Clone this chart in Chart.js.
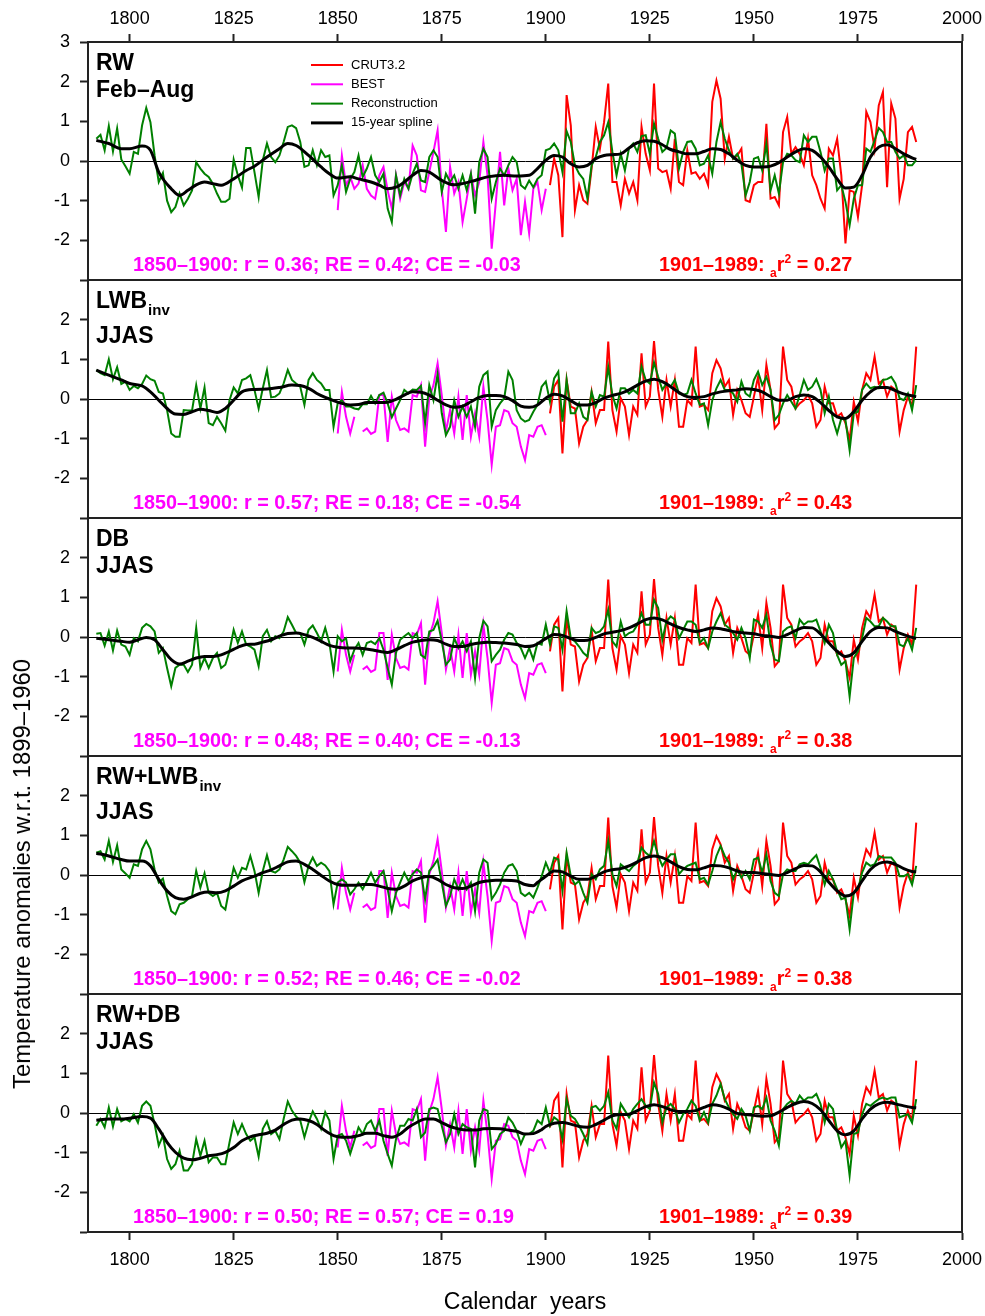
<!DOCTYPE html>
<html>
<head>
<meta charset="utf-8">
<script src="https://cdn.jsdelivr.net/npm/chart.js@4.4.1/dist/chart.umd.min.js"></script>
<style>
  body { margin: 0; background: #fff; }
  #wrap { position: relative; width: 985px; height: 1316px; background: #fff; }
  #wrap canvas { position: absolute; left: 0; }
  #ytitle {
    position: absolute; left: 22px; top: 874px;
    transform: translate(-50%, -50%) rotate(-90deg);
    white-space: nowrap; font: 23.8px "Liberation Sans", Arial, sans-serif; color: #000;
  }
</style>
</head>
<body>
<div id="wrap">
  <canvas id="p0" width="985" height="280" style="top:0px"></canvas>
  <canvas id="p1" width="985" height="238" style="top:280px"></canvas>
  <canvas id="p2" width="985" height="238" style="top:518px"></canvas>
  <canvas id="p3" width="985" height="238" style="top:756px"></canvas>
  <canvas id="p4" width="985" height="322" style="top:994px"></canvas>
  <div id="ytitle">Temperature anomalies w.r.t. 1899–1960</div>
</div>
<script>
// years of first value in each series
const reconStart = 1792;
const crutStart = 1901;
const bestStart = 1850;
const xTicks = [1800, 1825, 1850, 1875, 1900, 1925, 1950, 1975, 2000];
const yTicks = [-3, -2, -1, 0, 1, 2, 3];

// reconstructions, one value per year 1792-1989
const reconRW = [
  0.56, 0.66, 0.27, 0.88, 0.24, 0.82, 0.04, -0.13, -0.32, 0.23,
  0.18, 0.9, 1.34, 0.98, 0.14, -0.53, -0.3, -1.0, -1.29, -1.16,
  -0.82, -1.12, -0.95, -0.74, -0.03, -0.19, -0.32, -0.4, -0.57, -0.82,
  -1.03, -1.03, -0.95, 0.04, -0.36, -0.67, 0.33, 0.33, -0.28, -0.91,
  0.02, 0.44, 0.1, -0.03, 0.14, 0.48, 0.86, 0.9, 0.83, 0.48,
  -0.15, -0.11, 0.27, -0.11, 0.27, 0.1, 0.14, -0.87, -0.61, -0.11,
  -0.78, -0.45, -0.28, 0.14, -0.4, -0.19, 0.1, -0.36, -0.53, -0.32,
  -1.2, -1.54, -0.36, -0.87, -0.45, -0.7, -0.32, -0.07, -0.49, -0.53,
  0.1, 0.27, 0.1, -0.78, -0.32, -0.53, -0.36, -0.7, -0.36, -0.74,
  -0.32, -1.33, -0.03, 0.31, 0.1, -0.95, -0.53, -0.19, -0.36, -0.11,
  0.1, -0.03, -0.61, -0.7, -0.49, -0.66, -0.45, -0.36, 0.27, 0.31,
  0.44, 0.27, -0.28, 0.75, 0.48, -0.11, -0.32, -0.45, -0.95, -0.11,
  0.1, 0.48, 0.65, 0.98, 0.23, -0.36, 0.18, -0.24, 0.33, 0.44,
  0.23, 0.63, 0.65, 0.18, 0.94, 0.56, 0.23, 0.33, 0.77, 0.69,
  -0.19, 0.23, 0.48, 0.5, 0.31, -0.11, -0.07, 0.14, -0.32, 0.48,
  0.98, 0.56, 0.27, 0.06, 0.18, -0.07, -0.87, -0.53, 0.06, 0.1,
  -0.24, 0.44, -0.74, -0.36, -0.82, -0.03, 0.18, 0.14, 0.02, -0.03,
  0.65, 0.48, 0.61, 0.61, 0.23, -0.24, 0.06, 0.06, -0.74, -0.61,
  -1.03, -1.62, -0.95, -0.61, -0.61, 0.31, 0.23, 0.52, 0.83, 0.73,
  0.48, 0.48, 0.23, 0.06, 0.14, -0.11, -0.11, 0.02
];
const reconLWB = [
  0.73, 0.65, 0.6, 1.0, 0.5, 0.8, 0.38, 0.44, 0.23, 0.33,
  0.27, 0.38, 0.59, 0.5, 0.46, 0.18, 0.14, -0.28, -0.87, -0.95,
  -0.95, -0.28, -0.29, -0.29, 0.35, -0.24, 0.29, -0.61, -0.66, -0.45,
  -0.61, -0.8, -0.03, 0.29, 0.14, 0.48, 0.52, 0.6, 0.23, -0.24,
  0.27, 0.73, 0.04, 0.06, 0.14, 0.39, 0.73, 0.48, 0.39, 0.31,
  -0.15, 0.48, 0.65, 0.48, 0.39, 0.23, 0.23, -0.7, -0.11, -0.03,
  -0.19, -0.19, -0.24, -0.26, -0.13, -0.13, 0.08, -0.11, 0.1, 0.16,
  -0.11, -0.46, -0.24, -0.03, 0.23, 0.14, 0.24, 0.23, 0.33, -0.61,
  0.35, -0.03, 0.63, -0.36, -0.91, -0.7, -0.03, -0.45, -0.19, -0.45,
  -0.19, -0.7, 0.31, 0.6, 0.69, -0.7, -0.28, -0.11, 0.02, 0.69,
  0.48, -0.28, -0.49, -0.57, -0.53, -0.32, -0.15, 0.31, 0.44, -0.07,
  0.52, 0.69, -0.57, 0.48, -0.36, -0.36, -0.11, -0.45, -0.53, 0.18,
  -0.19, 0.1, 0.06, 0.8, 0.1, -0.24, 0.27, 0.27, 0.14, 0.23,
  0.14, 0.82, 0.48, 0.39, 0.92, 0.56, 0.23, 0.39, 0.31, 0.48,
  0.14, 0.1, 0.14, 0.48, 0.14, -0.15, -0.11, -0.66, -0.03, 0.27,
  0.48, 0.23, 0.23, 0.14, -0.07, 0.44, 0.14, 0.06, 0.48, 0.69,
  0.35, 0.56, 0.23, -0.53, -0.4, -0.11, 0.1, -0.07, -0.24, 0.1,
  0.48, 0.23, 0.31, 0.5, 0.23, -0.36, 0.06, -0.53, -0.87, -0.49,
  -0.53, -1.29, -0.36, -0.32, 0.23, 0.39, 0.27, 0.31, 0.27, 0.48,
  0.5, 0.56, 0.39, 0.02, -0.03, 0.14, -0.28, 0.35
];
const reconDB = [
  0.08, 0.1, -0.22, 0.14, -0.34, 0.16, -0.19, -0.24, -0.45, -0.03,
  -0.11, 0.23, 0.33, 0.27, 0.14, -0.4, -0.28, -0.78, -1.24, -0.78,
  -0.7, -0.7, -0.88, -0.7, 0.23, -0.78, -0.53, -0.78, -0.53, -0.4,
  -0.78, -0.7, -0.36, 0.18, -0.15, 0.14, -0.19, -0.24, -0.32, -0.74,
  0.02, 0.18, -0.11, 0.02, -0.03, 0.14, 0.5, 0.31, 0.1, 0.1,
  -0.19, 0.18, 0.29, 0.1, -0.11, 0.23, -0.15, -0.87, 0.02, -0.11,
  -0.03, -0.61, -0.32, -0.15, -0.45, -0.15, -0.11, -0.18, -0.03, -0.32,
  -0.78, -1.2, -0.4, -0.07, 0.02, 0.1, -0.03, 0.1, -0.45, -0.53,
  0.14, 0.18, 0.41, -0.11, -0.7, -0.57, -0.03, -0.28, -0.11, -0.36,
  -0.11, -1.03, -0.03, 0.41, 0.27, -0.61, -0.45, -0.32, -0.07, 0.1,
  0.06, -0.15, -0.28, -0.53, -0.28, -0.57, -0.15, -0.19, 0.31, -0.19,
  0.27, 0.23, -0.32, 0.65, -0.03, -0.11, -0.24, -0.4, -0.49, 0.23,
  0.1, 0.14, 0.27, 0.69, -0.11, -0.24, 0.39, 0.02, 0.1, 0.14,
  0.31, 0.6, 0.31, 0.31, 0.94, 0.73, -0.07, 0.39, 0.52, 0.44,
  -0.03, 0.18, 0.39, 0.39, 0.31, -0.15, -0.03, -0.28, 0.14, 0.39,
  0.6, 0.31, 0.23, 0.1, -0.07, 0.23, -0.03, -0.53, 0.44, 0.39,
  0.23, 0.56, -0.19, -0.57, -0.61, 0.14, 0.23, 0.27, -0.03, 0.44,
  0.31, 0.39, 0.39, 0.44, 0.14, -0.15, 0.31, 0.1, -0.45, -0.7,
  -0.61, -1.5, -0.53, -0.36, -0.03, 0.48, 0.39, 0.27, 0.27, 0.48,
  0.39, 0.27, 0.27, -0.19, -0.24, -0.03, -0.32, 0.23
];
const reconRWLWB = [
  0.56, 0.6, 0.39, 0.86, 0.33, 0.75, 0.14, 0.04, -0.07, 0.27,
  0.23, 0.65, 0.86, 0.65, 0.14, -0.19, -0.09, -0.53, -0.91, -0.99,
  -0.74, -0.7, -0.61, -0.53, 0.1, -0.32, 0.04, -0.45, -0.53, -0.45,
  -0.78, -0.87, -0.32, 0.18, -0.07, 0.18, 0.14, 0.48, 0.1, -0.45,
  0.1, 0.5, 0.1, 0.06, 0.14, 0.39, 0.71, 0.6, 0.48, 0.31,
  -0.18, 0.23, 0.44, 0.23, 0.31, 0.24, 0.1, -0.74, -0.19, -0.11,
  -0.19, -0.49, -0.36, -0.19, -0.36, -0.15, 0.06, -0.19, -0.03, 0.1,
  -0.36, -0.91, -0.45, -0.19, 0.06, -0.15, 0.02, 0.14, 0.06, -0.61,
  0.1, 0.23, 0.39, -0.19, -0.78, -0.53, -0.11, -0.36, -0.11, -0.36,
  -0.19, -0.91, 0.06, 0.39, 0.31, -0.61, -0.45, -0.24, 0.06, 0.23,
  0.27, 0.1, -0.45, -0.53, -0.45, -0.57, -0.32, -0.03, 0.31, 0.06,
  0.44, 0.39, -0.4, 0.56, -0.03, -0.24, -0.15, -0.45, -0.7, 0.02,
  -0.11, 0.14, 0.23, 0.86, 0.02, -0.28, 0.27, 0.18, 0.1, 0.23,
  0.31, 0.69, 0.56, 0.48, 0.86, 0.48, 0.23, 0.39, 0.52, 0.52,
  0.02, 0.14, 0.23, 0.27, 0.31, -0.11, -0.07, -0.24, 0.1, 0.48,
  0.73, 0.48, 0.31, -0.11, 0.14, -0.07, 0.1, -0.11, 0.39, 0.44,
  0.06, 0.52, -0.15, -0.45, -0.53, 0.02, 0.14, 0.1, 0.1, 0.27,
  0.31, 0.27, 0.39, 0.5, 0.18, -0.24, 0.1, -0.11, -0.36, -0.61,
  -0.57, -1.37, -0.45, -0.36, 0.06, 0.31, 0.23, 0.27, 0.48, 0.44,
  0.44, 0.44, 0.31, -0.03, -0.03, 0.02, -0.24, 0.23
];
const reconRWDB = [
  -0.32, -0.15, -0.36, 0.14, -0.34, 0.1, -0.21, -0.15, -0.21, -0.03,
  -0.24, 0.18, 0.29, 0.18, -0.28, -0.82, -0.57, -1.16, -1.41, -1.29,
  -0.95, -1.45, -1.45, -1.29, -0.66, -1.08, -0.7, -1.24, -1.12, -1.12,
  -1.29, -1.29, -0.74, -0.24, -0.53, -0.28, -0.53, -0.7, -0.61, -1.1,
  -0.4, -0.21, -0.53, -0.45, -0.66, -0.15, 0.29, 0.06, -0.09, -0.19,
  -0.61, -0.24, 0.04, -0.15, -0.4, 0.02, -0.19, -1.16, -0.57, -0.53,
  -0.7, -1.03, -0.7, -0.36, -0.53, -0.28, -0.19, -0.45, -0.19, -0.7,
  -1.03, -1.33, -0.66, -0.32, -0.32, -0.15, -0.19, 0.1, -0.61, -0.49,
  0.1, 0.14, 0.1, -0.32, -0.74, -0.53, -0.03, -0.53, -0.28, -0.36,
  -0.4, -1.37, -0.19, 0.1, 0.06, -0.91, -0.78, -0.53, -0.45, -0.11,
  -0.24, -0.45, -0.78, -0.53, -0.53, -0.45, -0.19, -0.28, 0.14, -0.32,
  -0.11, -0.19, -0.66, 0.35, -0.07, -0.15, -0.32, -0.53, -0.78, 0.14,
  0.18, 0.06, 0.18, 0.52, -0.19, -0.4, 0.23, 0.06, -0.11, 0.1,
  0.23, 0.35, 0.18, 0.1, 0.77, 0.48, -0.24, 0.14, 0.23, 0.1,
  -0.24, -0.03, 0.1, 0.31, 0.18, -0.19, 0.02, -0.24, 0.23, 0.44,
  0.73, 0.35, 0.14, -0.03, -0.15, 0.1, -0.07, -0.45, 0.14, 0.18,
  0.1, 0.39, -0.19, -0.45, -0.82, 0.1, 0.23, 0.31, 0.23, 0.44,
  0.31, 0.39, 0.39, 0.48, 0.23, -0.24, 0.23, 0.1, -0.45, -0.87,
  -0.7, -1.58, -0.53, -0.49, -0.03, 0.23, 0.18, 0.27, 0.35, 0.39,
  0.35, 0.39, 0.39, -0.11, -0.07, -0.03, -0.24, 0.35
];

// instrumental targets
const crutFebAug = [
  -0.61, 0.06, -0.36, -1.92, 1.66, 0.9, -1.24, -0.61, -0.99, -1.08,
  -0.19, 0.86, 0.31, 0.98, 1.95, -0.53, -0.53, -1.12, -0.45, -0.82,
  -0.53, -0.99, 0.86, 0.18, -0.24, 1.95, -0.19, -0.28, -0.24, -0.7,
  0.56, -0.53, -0.61, 0.27, -0.32, -0.28, -0.45, -0.32, -0.61, 1.49,
  2.03, 1.57, 0.06, 0.61, 0.06, 0.14, 0.31, -0.99, -1.03, -0.61,
  -0.53, -0.53, 0.94, -0.95, -0.91, -1.12, 0.73, 1.11, 0.18, 0.35,
  0.18, -0.11, 0.56, -0.36, -0.61, -0.95, -1.2, 0.31, 0.14, 0.56,
  -0.36, -2.08, -0.74, -0.78, -1.41, -0.61, 1.24, 0.98, 0.31, 1.4,
  1.74, -0.66, 1.45, 1.07, -0.95, -0.45, 0.73, 0.86, 0.48
];
const crutJJAS = [
  -0.36, 0.31, 0.48, -1.37, 0.48, -0.19, -0.24, -1.12, -0.7, -0.53,
  0.18, -0.61, -0.28, -0.28, 1.45, -0.28, -0.82, 0.02, -0.19, -0.91,
  -0.19, -0.4, 1.15, -0.19, 0.06, 1.46, 0.23, -0.45, 0.48, -0.19,
  0.48, -0.7, -0.7, -0.03, -0.15, 1.32, -0.19, -0.15, -0.28, 0.65,
  0.98, 0.77, 0.31, 0.48, -0.4, 0.23, -0.03, -0.36, -0.45, 0.06,
  0.56, -0.28, 0.86, 0.23, -0.74, -0.61, 1.32, 0.48, 0.31, -0.24,
  -0.11, -0.03, 0.1, -0.11, -0.7, -0.53, 0.31, -0.11, -0.11, -0.45,
  -0.36, -0.61, -1.03, -0.07, -0.57, 0.23, 0.65, 0.48, 1.07, 0.39,
  0.48, 0.06, 0.31, 0.23, -0.82, -0.28, 0.06, -0.19, 1.32
];
const bestFebAug = [
  -1.24, 0.14, -0.61, -0.4, -0.7, -0.57, -0.11, -0.7, -0.87, -0.95,
  -0.36, -0.15, -0.74, -1.2, -0.36, -0.95, -0.53, -0.7, 0.39, 0.14,
  -0.74, -0.78, -0.28, 0.23, 0.77, -0.7, -1.79, -0.15, -0.82, -0.53,
  -1.54, -0.95, -0.32, -0.87, -0.53, 0.48, -0.36, -2.21, -1.03, 0.23,
  -1.12, -0.19, -0.74, -0.45, -1.87, -1.03, -1.83, -0.7, -0.53, -1.24, -0.7
];
const bestJJAS = [
  -0.87, 0.18, -0.45, -0.87, -0.45, null, -0.82, -0.74, -0.88, -0.82,
  0.1, 0.1, -1.08, 0.06, -0.53, -0.78, -0.74, -0.82, 0.1, 0.06,
  0.35, -1.2, 0.02, 0.35, 0.9, 0.1, -0.82, -0.28, -0.87, 0.06,
  -1.03, 0.1, -0.95, -0.36, -0.95, 0.31, -0.53, -1.66, -0.7, -0.66,
  -0.28, -0.32, -0.61, -0.7, -1.2, -1.54, -0.91, -0.95, -0.7, -0.66, -0.91
];

// 15-year splines, [year, value]
const splineRW = [
  [1792, 0.52], [1795, 0.44], [1798, 0.31], [1800, 0.31], [1803, 0.38], [1805, 0.27],
  [1807, -0.28], [1810, -0.7], [1812, -0.87], [1814, -0.74], [1816, -0.6], [1818, -0.53],
  [1820, -0.57], [1822, -0.61], [1825, -0.45], [1828, -0.24], [1830, -0.13], [1833, 0.1],
  [1836, 0.31], [1838, 0.44], [1840, 0.39], [1843, 0.14], [1846, -0.15], [1848, -0.32],
  [1850, -0.43], [1853, -0.4], [1855, -0.45], [1858, -0.53], [1860, -0.61], [1862, -0.7],
  [1864, -0.66], [1866, -0.53], [1868, -0.36], [1870, -0.24], [1872, -0.28], [1875, -0.49],
  [1878, -0.6], [1880, -0.57], [1883, -0.49], [1886, -0.4], [1890, -0.36], [1893, -0.38],
  [1896, -0.36], [1898, -0.19], [1900, 0.02], [1902, 0.14], [1904, 0.1], [1906, -0.07],
  [1908, -0.15], [1910, -0.11], [1912, 0.06], [1914, 0.14], [1916, 0.16], [1918, 0.18],
  [1920, 0.33], [1922, 0.46], [1924, 0.51], [1926, 0.5], [1928, 0.41], [1930, 0.29],
  [1932, 0.23], [1934, 0.18], [1936, 0.18], [1938, 0.24], [1940, 0.31], [1942, 0.29],
  [1944, 0.18], [1946, 0.02], [1948, -0.11], [1950, -0.15], [1952, -0.15], [1954, -0.13],
  [1956, -0.04], [1958, 0.1], [1960, 0.23], [1962, 0.31], [1964, 0.27], [1966, 0.1],
  [1968, -0.15], [1970, -0.45], [1972, -0.68], [1974, -0.66], [1976, -0.36], [1978, 0.1],
  [1980, 0.35], [1982, 0.41], [1984, 0.31], [1986, 0.18], [1988, 0.08], [1989, 0.04]
];
const splineLWB = [
  [1792, 0.73], [1795, 0.6], [1798, 0.48], [1800, 0.39], [1803, 0.33], [1805, 0.18],
  [1807, -0.03], [1809, -0.24], [1811, -0.38], [1813, -0.39], [1815, -0.32], [1817, -0.26],
  [1819, -0.29], [1821, -0.34], [1823, -0.24], [1825, -0.03], [1827, 0.18], [1830, 0.24],
  [1833, 0.25], [1836, 0.29], [1839, 0.35], [1841, 0.34], [1843, 0.27], [1845, 0.14],
  [1847, 0.04], [1849, -0.04], [1851, -0.11], [1853, -0.15], [1855, -0.14], [1857, -0.09],
  [1860, -0.09], [1862, -0.08], [1864, -0.01], [1866, 0.1], [1868, 0.18], [1870, 0.17],
  [1872, 0.1], [1874, -0.03], [1876, -0.15], [1878, -0.21], [1880, -0.18], [1882, -0.07],
  [1884, 0.04], [1886, 0.09], [1888, 0.09], [1890, 0.06], [1892, -0.04], [1894, -0.18],
  [1896, -0.21], [1898, -0.15], [1900, 0.02], [1902, 0.12], [1904, 0.08], [1906, -0.04],
  [1908, -0.15], [1910, -0.15], [1912, -0.09], [1914, 0.02], [1916, 0.09], [1918, 0.14],
  [1920, 0.23], [1922, 0.35], [1924, 0.45], [1926, 0.5], [1928, 0.44], [1930, 0.31],
  [1932, 0.16], [1934, 0.06], [1936, 0.04], [1938, 0.06], [1940, 0.13], [1942, 0.18],
  [1944, 0.21], [1946, 0.23], [1948, 0.26], [1950, 0.24], [1952, 0.18], [1954, 0.06],
  [1956, -0.03], [1958, -0.03], [1960, 0.06], [1962, 0.1], [1964, 0.06], [1966, -0.09],
  [1968, -0.29], [1970, -0.45], [1972, -0.49], [1974, -0.32], [1976, -0.03], [1978, 0.18],
  [1980, 0.29], [1982, 0.29], [1984, 0.21], [1986, 0.13], [1988, 0.08], [1989, 0.06]
];
const splineDB = [
  [1792, -0.03], [1795, -0.07], [1798, -0.11], [1800, -0.13], [1802, -0.07], [1804, -0.01],
  [1806, -0.07], [1808, -0.32], [1810, -0.57], [1812, -0.68], [1814, -0.61], [1816, -0.53],
  [1818, -0.49], [1820, -0.49], [1822, -0.45], [1824, -0.36], [1826, -0.26], [1828, -0.19],
  [1830, -0.18], [1832, -0.13], [1834, -0.07], [1836, 0.02], [1838, 0.09], [1840, 0.1],
  [1842, 0.06], [1844, -0.01], [1846, -0.11], [1848, -0.21], [1850, -0.26], [1852, -0.28],
  [1854, -0.28], [1856, -0.29], [1858, -0.32], [1860, -0.36], [1862, -0.39], [1864, -0.32],
  [1866, -0.22], [1868, -0.13], [1870, -0.09], [1872, -0.07], [1874, -0.09], [1876, -0.18],
  [1878, -0.24], [1880, -0.24], [1882, -0.19], [1884, -0.15], [1886, -0.13], [1888, -0.14],
  [1890, -0.15], [1893, -0.19], [1895, -0.24], [1897, -0.22], [1900, -0.04], [1902, 0.06],
  [1904, 0.04], [1906, -0.04], [1908, -0.09], [1910, -0.08], [1912, -0.01], [1914, 0.08],
  [1916, 0.12], [1918, 0.16], [1920, 0.23], [1922, 0.33], [1924, 0.44], [1926, 0.48],
  [1928, 0.43], [1930, 0.33], [1932, 0.24], [1934, 0.18], [1936, 0.14], [1938, 0.18],
  [1940, 0.23], [1942, 0.21], [1944, 0.16], [1946, 0.12], [1948, 0.1], [1950, 0.08],
  [1952, 0.04], [1954, 0.02], [1956, -0.01], [1958, 0.06], [1960, 0.16], [1962, 0.24],
  [1964, 0.23], [1966, 0.08], [1968, -0.15], [1970, -0.36], [1972, -0.49], [1974, -0.4],
  [1976, -0.11], [1978, 0.14], [1980, 0.24], [1982, 0.23], [1984, 0.14], [1986, 0.06],
  [1988, -0.01], [1989, -0.03]
];
const splineRWLWB = [
  [1792, 0.55], [1795, 0.48], [1798, 0.39], [1800, 0.35], [1803, 0.35], [1805, 0.23],
  [1807, -0.11], [1809, -0.4], [1811, -0.57], [1813, -0.61], [1815, -0.55], [1817, -0.46],
  [1819, -0.43], [1821, -0.45], [1823, -0.4], [1825, -0.28], [1827, -0.15], [1830, -0.03],
  [1832, 0.06], [1834, 0.13], [1836, 0.23], [1838, 0.33], [1840, 0.35], [1842, 0.27],
  [1844, 0.14], [1846, -0.01], [1848, -0.15], [1850, -0.24], [1852, -0.26], [1854, -0.26],
  [1856, -0.24], [1858, -0.24], [1860, -0.28], [1862, -0.34], [1864, -0.36], [1866, -0.28],
  [1868, -0.15], [1870, -0.07], [1872, -0.04], [1874, -0.11], [1876, -0.24], [1878, -0.32],
  [1880, -0.34], [1882, -0.28], [1884, -0.19], [1886, -0.15], [1888, -0.13], [1890, -0.13],
  [1893, -0.15], [1895, -0.24], [1897, -0.27], [1898, -0.19], [1900, -0.03], [1902, 0.1],
  [1904, 0.08], [1906, -0.03], [1908, -0.11], [1910, -0.11], [1912, -0.03], [1914, 0.08],
  [1916, 0.13], [1918, 0.16], [1920, 0.23], [1922, 0.33], [1924, 0.44], [1926, 0.48],
  [1928, 0.44], [1930, 0.33], [1932, 0.21], [1934, 0.14], [1936, 0.13], [1938, 0.18],
  [1940, 0.24], [1942, 0.23], [1944, 0.18], [1946, 0.1], [1948, 0.06], [1950, 0.06],
  [1952, 0.04], [1954, 0.01], [1956, -0.01], [1958, 0.06], [1960, 0.16], [1962, 0.24],
  [1964, 0.23], [1966, 0.08], [1968, -0.18], [1970, -0.4], [1972, -0.53], [1974, -0.45],
  [1976, -0.15], [1978, 0.14], [1980, 0.29], [1982, 0.33], [1984, 0.27], [1986, 0.16],
  [1988, 0.09], [1989, 0.08]
];
const splineRWDB = [
  [1792, -0.18], [1795, -0.15], [1798, -0.15], [1800, -0.13], [1803, -0.09], [1805, -0.13],
  [1807, -0.4], [1809, -0.74], [1811, -0.99], [1813, -1.14], [1815, -1.18], [1817, -1.14],
  [1819, -1.08], [1821, -1.05], [1823, -0.99], [1825, -0.87], [1827, -0.7], [1829, -0.6],
  [1831, -0.55], [1833, -0.51], [1835, -0.43], [1837, -0.29], [1839, -0.18], [1841, -0.15],
  [1843, -0.19], [1845, -0.29], [1847, -0.45], [1849, -0.57], [1851, -0.61], [1853, -0.61],
  [1855, -0.57], [1857, -0.51], [1859, -0.51], [1861, -0.57], [1863, -0.61], [1865, -0.53],
  [1867, -0.36], [1869, -0.24], [1871, -0.15], [1873, -0.15], [1875, -0.24], [1877, -0.34],
  [1879, -0.4], [1881, -0.43], [1883, -0.43], [1885, -0.4], [1887, -0.39], [1889, -0.4],
  [1891, -0.43], [1893, -0.46], [1895, -0.53], [1897, -0.52], [1899, -0.42], [1900, -0.34],
  [1902, -0.26], [1904, -0.24], [1906, -0.28], [1908, -0.34], [1910, -0.36], [1912, -0.29],
  [1914, -0.18], [1916, -0.07], [1918, -0.04], [1920, -0.03], [1922, 0.06], [1924, 0.16],
  [1926, 0.21], [1928, 0.16], [1930, 0.08], [1932, 0.04], [1934, 0.04], [1936, 0.06],
  [1938, 0.14], [1940, 0.21], [1942, 0.18], [1944, 0.1], [1946, -0.01], [1948, -0.04],
  [1950, -0.06], [1952, -0.08], [1954, -0.07], [1956, 0.02], [1958, 0.14], [1960, 0.24],
  [1962, 0.29], [1964, 0.24], [1966, 0.08], [1968, -0.19], [1970, -0.45], [1972, -0.55],
  [1974, -0.45], [1976, -0.15], [1978, 0.1], [1980, 0.23], [1982, 0.27], [1984, 0.23],
  [1986, 0.18], [1988, 0.14], [1989, 0.13]
];

const panels = [
  { id: 'p0', name: 'RW', sub: '', season: 'Feb\u2013Aug', recon: reconRW, spline: splineRW,
    crut: crutFebAug, best: bestFebAug, stats: '1850\u20131900: r = 0.36; RE = 0.42; CE = -0.03', r2: '0.27' },
  { id: 'p1', name: 'LWB', sub: 'inv', season: 'JJAS', recon: reconLWB, spline: splineLWB,
    crut: crutJJAS, best: bestJJAS, stats: '1850\u20131900: r = 0.57; RE = 0.18; CE = -0.54', r2: '0.43' },
  { id: 'p2', name: 'DB', sub: '', season: 'JJAS', recon: reconDB, spline: splineDB,
    crut: crutJJAS, best: bestJJAS, stats: '1850\u20131900: r = 0.48; RE = 0.40; CE = -0.13', r2: '0.38' },
  { id: 'p3', name: 'RW+LWB', sub: 'inv', season: 'JJAS', recon: reconRWLWB, spline: splineRWLWB,
    crut: crutJJAS, best: bestJJAS, stats: '1850\u20131900: r = 0.52; RE = 0.46; CE = -0.02', r2: '0.38' },
  { id: 'p4', name: 'RW+DB', sub: '', season: 'JJAS', recon: reconRWDB, spline: splineRWDB,
    crut: crutJJAS, best: bestJJAS, stats: '1850\u20131900: r = 0.50; RE = 0.57; CE = 0.19', r2: '0.39' }
];

const FONT = '"Liberation Sans", Arial, sans-serif';
const AXIS = '#222';
const STAT_FONT = 'bold 19.8px ' + FONT;

function series(values, start) {
  return values.map((v, i) => ({ x: start + i, y: v }));
}

const legendRows = [
  ['CRUT3.2', '#ff0000', 2],
  ['BEST', '#ff00ff', 2],
  ['Reconstruction', '#008000', 2],
  ['15-year spline', '#000000', 3]
];

const panelDecor = {
  id: 'panelDecor',
  afterDraw(chart, args, opts) {
    const { ctx, chartArea: a } = chart;
    const p = opts.panel;
    ctx.save();
    // frame
    ctx.strokeStyle = AXIS;
    ctx.lineWidth = 2;
    ctx.strokeRect(a.left, a.top, a.right - a.left, a.bottom - a.top);

    // panel label
    ctx.fillStyle = '#000';
    ctx.textBaseline = 'alphabetic';
    ctx.textAlign = 'left';
    ctx.font = 'bold 23px ' + FONT;
    const lx = a.left + 8;
    ctx.fillText(p.name, lx, a.top + 28);
    let second = a.top + 55;
    if (p.sub) {
      const w = ctx.measureText(p.name).width;
      ctx.font = 'bold 15px ' + FONT;
      ctx.fillText(p.sub, lx + w + 1, a.top + 35);
      ctx.font = 'bold 23px ' + FONT;
      second = a.top + 63;
    }
    ctx.fillText(p.season, lx, second);

    // statistics
    ctx.font = STAT_FONT;
    ctx.fillStyle = '#ff00ff';
    ctx.fillText(p.stats, a.left + 45, a.top + 229);
    ctx.fillStyle = '#ff0000';
    let x = a.left + 571;
    const y = a.top + 229;
    const head = '1901\u20131989: ';
    ctx.fillText(head, x, y);
    x += ctx.measureText(head).width;
    ctx.font = 'bold 12px ' + FONT;
    ctx.fillText('a', x, y + 6);
    x += ctx.measureText('a').width;
    ctx.font = STAT_FONT;
    ctx.fillText('r', x, y);
    x += ctx.measureText('r').width;
    ctx.font = 'bold 12px ' + FONT;
    ctx.fillText('2', x, y - 8);
    x += ctx.measureText('2').width;
    ctx.font = STAT_FONT;
    ctx.fillText(' = ' + p.r2, x, y);

    // legend only in the first panel
    if (opts.legend) {
      ctx.font = '13px ' + FONT;
      ctx.textBaseline = 'middle';
      legendRows.forEach(([label, color, lw], i) => {
        const ry = a.top + 23 + i * 19.3;
        ctx.strokeStyle = color;
        ctx.lineWidth = lw;
        ctx.beginPath();
        ctx.moveTo(a.left + 223, ry);
        ctx.lineTo(a.left + 255, ry);
        ctx.stroke();
        ctx.fillStyle = '#000';
        ctx.fillText(label, a.left + 263, ry);
      });
    }
    ctx.restore();
  }
};

panels.forEach((p, i) => {
  const isTop = i === 0;
  const isBottom = i === panels.length - 1;
  new Chart(document.getElementById(p.id), {
    type: 'line',
    data: {
      datasets: [
        { label: '15-year spline', data: p.spline.map(([x, y]) => ({ x, y })),
          borderColor: '#000', borderWidth: 3, cubicInterpolationMode: 'monotone' },
        { label: 'Reconstruction', data: series(p.recon, reconStart),
          borderColor: '#008000', borderWidth: 2 },
        { label: 'BEST', data: series(p.best, bestStart),
          borderColor: '#ff00ff', borderWidth: 2 },
        { label: 'CRUT3.2', data: series(p.crut, crutStart),
          borderColor: '#ff0000', borderWidth: 2 }
      ]
    },
    options: {
      responsive: false,
      animation: false,
      events: [],
      layout: { padding: { left: 0, right: 23, top: 0, bottom: 0 } },
      elements: { point: { radius: 0 }, line: { tension: 0, borderJoin: 'round' } },
      plugins: {
        legend: { display: false },
        tooltip: { enabled: false },
        panelDecor: { panel: p, legend: isTop }
      },
      scales: {
        x: {
          type: 'linear',
          min: 1790,
          max: 2000,
          position: isTop ? 'top' : 'bottom',
          display: isTop || isBottom,
          afterBuildTicks: s => { s.ticks = xTicks.map(v => ({ value: v })); },
          afterFit: s => {
            s.height = isTop ? 42 : (isBottom ? 84 : 0);
            s.paddingLeft = 0; s.paddingRight = 0;
          },
          grid: { drawOnChartArea: false, tickLength: 8, tickWidth: 2, tickColor: AXIS, color: AXIS },
          border: { color: AXIS, width: 2 },
          ticks: {
            font: { size: 18, family: FONT }, color: '#000', padding: isTop ? 4 : 9,
            maxRotation: 0, autoSkip: false, callback: v => String(v)
          },
          title: {
            display: isBottom,
            text: 'Calendar  years',
            font: { size: 23, family: FONT },
            color: '#000',
            padding: { top: 0, bottom: 0 }
          }
        },
        y: {
          type: 'linear',
          min: -3,
          max: 3,
          afterBuildTicks: s => { s.ticks = yTicks.map(v => ({ value: v })); },
          afterFit: s => {
            s.width = 88;
            s.paddingTop = 0; s.paddingBottom = 0;
          },
          grid: {
            color: c => (c.tick && c.tick.value === 0 ? '#000' : 'rgba(0,0,0,0)'),
            lineWidth: 1,
            tickLength: 8,
            tickWidth: 2,
            tickColor: AXIS
          },
          border: { color: AXIS, width: 2 },
          ticks: {
            font: { size: 18, family: FONT },
            color: '#000',
            padding: 10,
            autoSkip: false,
            callback: v => (Math.abs(v) < 3 || (isTop && v === 3) ? String(v) : '')
          }
        }
      }
    },
    plugins: [panelDecor]
  });
});
</script>
</body>
</html>
